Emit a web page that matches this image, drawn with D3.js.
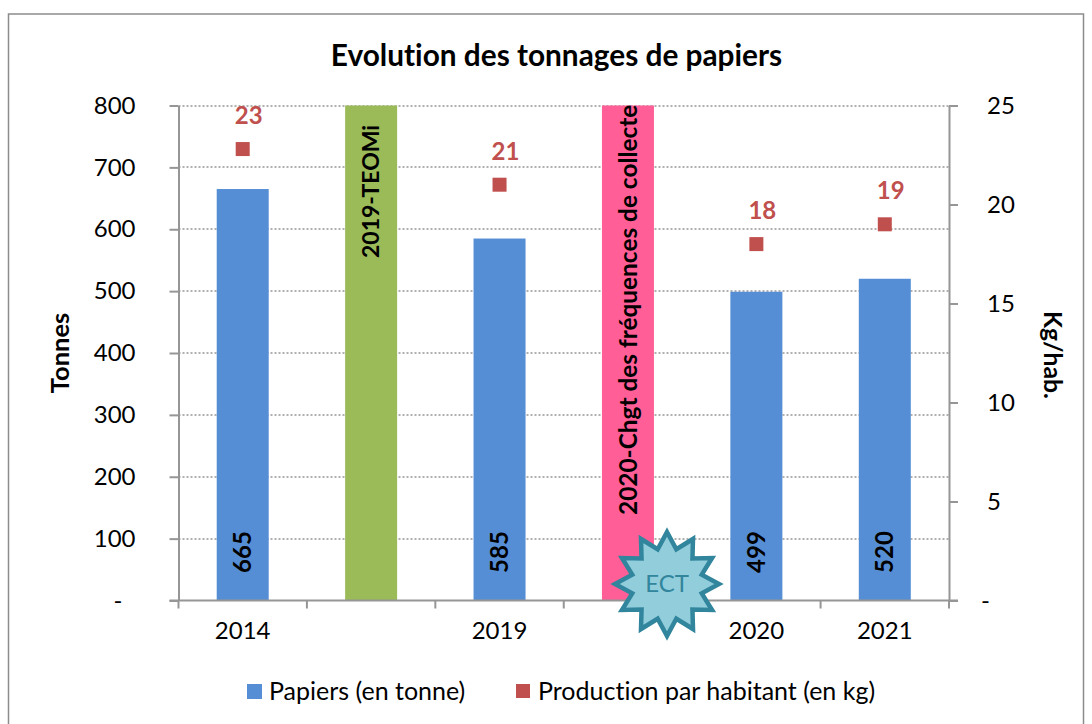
<!DOCTYPE html>
<html><head><meta charset="utf-8">
<script src="https://cdn.jsdelivr.net/npm/d3@7"></script>
<style>html,body{margin:0;padding:0;background:#fff}svg{display:block}text{font-family:Lato,"Open Sans",sans-serif;font-variant-ligatures:none}</style>
</head><body><svg id="c" width="1092" height="724"></svg>
<script>
const categories=["2014","a","2019","b","2020","2021"];
const tickLabels=["2014","","2019","","2020","2021"];
const papiers=[665,null,585,null,499,520];
const production=[22.8,null,21,null,18,19];
const productionLabels=["23",null,"21",null,"18","19"];
const markers=[null,800,null,800,null,null];
const markerLabels=[null,"2019-TEOMi",null,"2020-Chgt des fréquences de collecte",null,null];
const markerColors=[null,"#9bbb59",null,"#ff5f96",null,null];
const leftTicks=[0,100,200,300,400,500,600,700,800];
const rightTicks=[0,5,10,15,20,25];
const fmt=v=>v===0?"-":String(v);

const svg=d3.select("#c");
const L=178.5,R=949,T=105.5,B=600.5;
const x=d3.scaleBand().domain(categories).range([L,R]);
const y=d3.scaleLinear().domain([0,800]).range([B,T]);
const y2=d3.scaleLinear().domain([0,25]).range([B,T]);
const barW=52, grey="#969696";
const cx=c=>x(c)+x.bandwidth()/2;
const idx=c=>categories.indexOf(c);

svg.append("rect").attr("x",8.5).attr("y",14).attr("width",1075).attr("height",720).attr("fill","#fff").attr("stroke","#8c8c8c").attr("stroke-width",1.5);

svg.append("text").attr("x",556.5).attr("y",66).attr("text-anchor","middle").attr("font-size",29.8).attr("font-weight",700).text("Evolution des tonnages de papiers");

// grid
svg.append("g").selectAll("line").data(leftTicks.slice(1)).join("line")
 .attr("x1",L).attr("x2",R).attr("y1",d=>Math.round(y(d))).attr("y2",d=>Math.round(y(d)))
 .attr("stroke","#969696").attr("stroke-width",1.5).attr("stroke-dasharray","2 2");

// bars
svg.append("g").selectAll("rect").data(categories.filter((c,i)=>papiers[i]!==null)).join("rect")
 .attr("x",c=>cx(c)-barW/2).attr("width",barW)
 .attr("y",c=>y(papiers[idx(c)]))
 .attr("height",c=>B-y(papiers[idx(c)]))
 .attr("fill","#558ed5");
svg.append("g").selectAll("rect").data(categories.filter((c,i)=>markers[i]!==null)).join("rect")
 .attr("x",c=>cx(c)-barW/2).attr("width",barW)
 .attr("y",c=>y(markers[idx(c)]))
 .attr("height",c=>B-y(markers[idx(c)]))
 .attr("fill",c=>markerColors[idx(c)]);

// axes
const axisStyle=g=>{g.selectAll("path,line").attr("stroke",grey).attr("stroke-width",2);g.selectAll("text").attr("fill","#000").attr("font-size",24);};
const la=svg.append("g").attr("transform",`translate(${L},0)`)
 .call(d3.axisLeft(y).tickValues(leftTicks).tickFormat(fmt).tickSize(9).tickSizeOuter(0).tickPadding(34)).call(axisStyle);
la.selectAll(".tick text").filter(d=>d===0).attr("dx",-13);
const ra=svg.append("g").attr("transform",`translate(${R},0)`)
 .call(d3.axisRight(y2).tickValues(rightTicks).tickFormat(fmt).tickSize(9).tickSizeOuter(0).tickPadding(29)).call(axisStyle);
ra.selectAll(".tick text").filter(d=>d===0).attr("dx",-6);
const xa=svg.append("g").attr("transform",`translate(0,${B})`)
 .call(d3.axisBottom(x).tickSize(0).tickFormat((d,i)=>tickLabels[i]).tickPadding(21));
axisStyle(xa);
xa.select("path").attr("d",`M${L-9},0H${R+9}`);
xa.append("g").selectAll("line").data([...categories.map(c=>x(c)),R]).join("line")
 .attr("x1",d=>d).attr("x2",d=>d).attr("y1",0).attr("y2",8).attr("stroke",grey).attr("stroke-width",2);

// value labels
svg.append("g").selectAll("text").data(categories.filter((c,i)=>papiers[i]!==null)).join("text")
 .attr("transform",c=>`translate(${cx(c)},552) rotate(-90)`).attr("text-anchor","middle").attr("dy","0.35em")
 .attr("font-size",24).attr("font-weight",700).text(c=>papiers[idx(c)]);
svg.append("g").selectAll("text").data(categories.filter((c,i)=>markers[i]!==null)).join("text")
 .attr("transform",c=>`translate(${cx(c)},${c==="a"?258:515}) rotate(-90)`).attr("text-anchor","start").attr("dy","0.35em")
 .attr("font-size",c=>c==="a"?23:24.4).attr("font-weight",700).text(c=>markerLabels[idx(c)]);

// squares
const sq=14;
svg.append("g").selectAll("rect").data(categories.filter((c,i)=>production[i]!==null)).join("rect")
 .attr("x",c=>cx(c)-sq/2).attr("width",sq).attr("height",sq)
 .attr("y",c=>y2(production[idx(c)])-sq/2).attr("fill","#c0504d");
svg.append("g").selectAll("text").data(categories.filter((c,i)=>production[i]!==null)).join("text")
 .attr("x",c=>cx(c)+6).attr("y",c=>y2(production[idx(c)])-25)
 .attr("text-anchor","middle").attr("font-size",24).attr("font-weight",700).attr("fill","#c0504d")
 .text(c=>productionLabels[idx(c)]);

// axis titles
svg.append("text").attr("transform","translate(60,353) rotate(-90)").attr("dy","0.35em").attr("text-anchor","middle").attr("font-size",25.5).attr("font-weight",700).text("Tonnes");
svg.append("text").attr("transform","translate(1053,355) rotate(90)").attr("dy","0.35em").attr("text-anchor","middle").attr("font-size",24.7).attr("font-weight",700).text("Kg/hab.");

// ECT star
const starPts=d3.range(24).map(i=>{const r=i%2?36:52,a=i*Math.PI/12;return [r*Math.sin(a),-r*Math.cos(a)];});
const star=svg.append("g").attr("transform","translate(667,584)");
star.append("path").attr("d",d3.line()(starPts)+"Z").attr("fill","#92cddc").attr("stroke","#31859c").attr("stroke-width",4.5);
star.append("text").attr("text-anchor","middle").attr("dy","0.35em").attr("font-size",24).attr("fill","#31859c").text("ECT");

// legend
const lg=svg.append("g");
lg.append("rect").attr("x",247).attr("y",684).attr("width",15).attr("height",15).attr("fill","#558ed5");
lg.append("text").attr("x",269).attr("y",700).attr("font-size",25).text("Papiers (en tonne)");
lg.append("rect").attr("x",516).attr("y",684).attr("width",14).attr("height",14).attr("fill","#c0504d");
lg.append("text").attr("x",538).attr("y",700).attr("font-size",25).text("Production par habitant (en kg)");
</script></body></html>
